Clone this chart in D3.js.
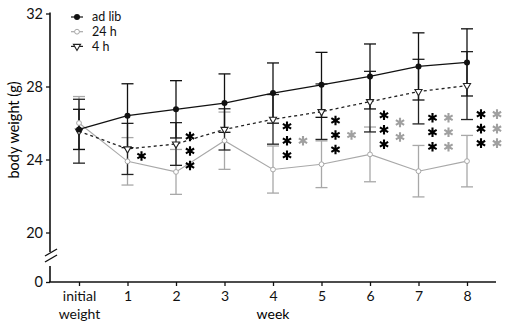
<!DOCTYPE html>
<html>
<head>
<meta charset="utf-8">
<script src="https://cdn.jsdelivr.net/npm/d3@7"></script>
<style>
  body { margin: 0; background: #fff; }
  text { font-family: Lato, "Open Sans", sans-serif; }
</style>
</head>
<body>
<div class="chart"></div>
<script>
// categories on the x axis
const weeks = ["initial weight", "1", "2", "3", "4", "5", "6", "7", "8"];

// body weight (g), mean and error
const adLib = [25.65, 26.4, 26.75, 27.09, 27.64, 28.09, 28.55, 29.1, 29.32];
const adLibErr = [1.1, 1.75, 1.57, 1.6, 1.65, 1.78, 1.78, 1.84, 1.84];
const h24 = [26.0, 23.9, 23.32, 25.03, 23.45, 23.74, 24.28, 23.36, 23.91];
const h24Err = [1.45, 1.3, 1.23, 1.57, 1.29, 1.28, 1.5, 1.41, 1.41];
const h4 = [25.55, 24.58, 24.85, 25.65, 26.2, 26.62, 27.17, 27.72, 28.05];
const h4Err = [1.75, 1.4, 1.17, 1.13, 1.36, 1.52, 1.66, 1.77, 1.86];

// significance asterisks per week
const blackStars = [0, 1, 3, 0, 3, 3, 3, 3, 3];
const grayStars = [0, 0, 0, 0, 1, 1, 2, 3, 3];
const starLevel = [0, 24.19, 24.47, 0, 25.03, 25.34, 25.63, 25.49, 25.69];

const yTicks = [20, 24, 28, 32];

const W = 510, H = 332;
const BLACK = "#111", GRAY = "#a8a8a8", DARK = "#222";

const svg = d3.select(".chart").append("svg")
  .attr("width", W).attr("height", H);

const x = d3.scalePoint().domain(weeks).range([79, 467]);
const y = d3.scaleLinear().domain([20, 32]).range([232.5, 13.5]);
const yLow = d3.scaleLinear().domain([0, 1]).range([282, 267]);

const axisX = 50;

// y axis (upper part)
const gy = svg.append("g")
  .attr("transform", `translate(${axisX},0)`)
  .call(d3.axisLeft(y).tickValues(yTicks).tickSize(4).tickPadding(3));
gy.select(".domain").remove();
gy.append("line")
  .attr("y1", y(32) - 1).attr("y2", 252)
  .attr("stroke", BLACK).attr("stroke-width", 1.6);

// y axis (lower part, below the break)
const gy0 = svg.append("g")
  .attr("transform", `translate(${axisX},0)`)
  .call(d3.axisLeft(yLow).tickValues([0]).tickFormat(d3.format("d")).tickSize(4).tickPadding(3));
gy0.select(".domain").remove();
gy0.append("line")
  .attr("y1", 266).attr("y2", yLow(0))
  .attr("stroke", BLACK).attr("stroke-width", 1.6);

// break marks
[0, 6].forEach((dy) => {
  svg.append("line")
    .attr("x1", axisX - 5).attr("y1", 256 + dy)
    .attr("x2", axisX + 7).attr("y2", 249 + dy)
    .attr("stroke", BLACK).attr("stroke-width", 1.4);
});

[gy, gy0].forEach((g) => {
  g.selectAll(".tick line").attr("stroke", BLACK).attr("stroke-width", 1.3);
  g.selectAll(".tick text").style("font-size", "14.5px").attr("fill", "#111");
});

// x axis
const gx = svg.append("g")
  .attr("transform", `translate(0,${yLow(0)})`)
  .call(d3.axisBottom(x).tickSize(4).tickPadding(5));
gx.select(".domain").remove();
gx.append("line")
  .attr("x1", axisX - 1).attr("x2", 496)
  .attr("stroke", BLACK).attr("stroke-width", 1.6);
gx.selectAll(".tick line").attr("stroke", BLACK).attr("stroke-width", 1.3);
gx.selectAll(".tick text")
  .style("font-size", "14px")
  .attr("fill", "#111")
  .each(function (d) {
    const words = d.split(" ");
    if (words.length > 1) {
      const t = d3.select(this).text(null);
      words.forEach((w, i) => {
        t.append("tspan").attr("x", 0).attr("dy", i ? "1.3em" : "0.71em").text(w);
      });
      t.attr("dy", null);
    }
  });

// axis titles
svg.append("text")
  .attr("x", x("4")).attr("y", 319)
  .attr("text-anchor", "middle")
  .style("font-size", "14px")
  .text("week");

svg.append("text")
  .attr("transform", "translate(19,130) rotate(-90)")
  .attr("text-anchor", "middle")
  .style("font-size", "14.5px")
  .text("body weight (g)");

const series = [
  { name: "24 h", values: h24, err: h24Err, color: GRAY, dash: null, width: 1.1 },
  { name: "4 h", values: h4, err: h4Err, color: DARK, dash: "3,3", width: 1.3 },
  { name: "ad lib", values: adLib, err: adLibErr, color: BLACK, dash: null, width: 1.3 },
];

const line = d3.line()
  .x((d, i) => x(weeks[i]))
  .y((d) => y(d));

const capW = 6;

series.forEach((s) => {
  const g = svg.append("g");

  // error bars
  const eb = g.selectAll(".err")
    .data(s.values)
    .enter()
    .append("g");
  eb.append("line")
    .attr("x1", (d, i) => x(weeks[i])).attr("x2", (d, i) => x(weeks[i]))
    .attr("y1", (d, i) => y(d + s.err[i])).attr("y2", (d, i) => y(d - s.err[i]));
  eb.append("line")
    .attr("x1", (d, i) => x(weeks[i]) - capW).attr("x2", (d, i) => x(weeks[i]) + capW)
    .attr("y1", (d, i) => y(d + s.err[i])).attr("y2", (d, i) => y(d + s.err[i]));
  eb.append("line")
    .attr("x1", (d, i) => x(weeks[i]) - capW).attr("x2", (d, i) => x(weeks[i]) + capW)
    .attr("y1", (d, i) => y(d - s.err[i])).attr("y2", (d, i) => y(d - s.err[i]));
  eb.selectAll("line")
    .attr("stroke", s.color)
    .attr("stroke-width", 1.3);

  g.append("path")
    .attr("d", line(s.values))
    .attr("fill", "none")
    .attr("stroke", s.color)
    .attr("stroke-width", s.width)
    .attr("stroke-dasharray", s.dash);
});

// markers
const triangle = d3.symbol().type(d3.symbolTriangle).size(22);

const drawMarker = (sel, name) => {
  if (name === "ad lib") {
    sel.append("circle").attr("r", 3).attr("fill", BLACK);
  } else if (name === "24 h") {
    sel.append("circle").attr("r", 2.4)
      .attr("fill", "#fff").attr("stroke", GRAY).attr("stroke-width", 1);
  } else {
    sel.append("path").attr("d", triangle())
      .attr("transform", "rotate(180)")
      .attr("fill", "#fff").attr("stroke", DARK).attr("stroke-width", 1.1);
  }
};

series.forEach((s) => {
  svg.append("g")
    .selectAll("g")
    .data(s.values)
    .enter()
    .append("g")
    .attr("transform", (d, i) => `translate(${x(weeks[i])},${y(d)})`)
    .each(function () {
      drawMarker(d3.select(this), s.name);
    });
});

// asterisks
const star = d3.symbol().type(d3.symbolAsterisk).size(64);
const starGap = 14.5;

const drawStars = (counts, dx, color) => {
  const pts = [];
  counts.forEach((n, i) => {
    for (let k = 0; k < n; k++) {
      pts.push({ x: x(weeks[i]) + dx, y: y(starLevel[i]) + (k - (n - 1) / 2) * starGap });
    }
  });
  svg.append("g")
    .selectAll("path")
    .data(pts)
    .enter()
    .append("path")
    .attr("d", star())
    .attr("transform", (d) => `translate(${d.x},${d.y})`)
    .attr("fill", "none")
    .attr("stroke", color)
    .attr("stroke-width", 2.1);
};
drawStars(blackStars, 14, "#000");
drawStars(grayStars, 30, "#a0a0a0");

// legend
const legendOrder = ["ad lib", "24 h", "4 h"];
const legend = svg.append("g").attr("transform", "translate(77,17)");
const li = legend.selectAll("g")
  .data(legendOrder)
  .enter()
  .append("g")
  .attr("transform", (d, i) => `translate(0,${i * 14.7})`);
li.append("line")
  .attr("x1", -6).attr("x2", 6)
  .attr("stroke", (d) => series.find((s) => s.name === d).color)
  .attr("stroke-width", 1.2);
li.each(function (d) {
  drawMarker(d3.select(this), d);
});
li.append("text")
  .attr("x", 15).attr("dy", "0.35em")
  .style("font-size", "12.5px")
  .attr("fill", "#111")
  .text((d) => d);
</script>
</body>
</html>
